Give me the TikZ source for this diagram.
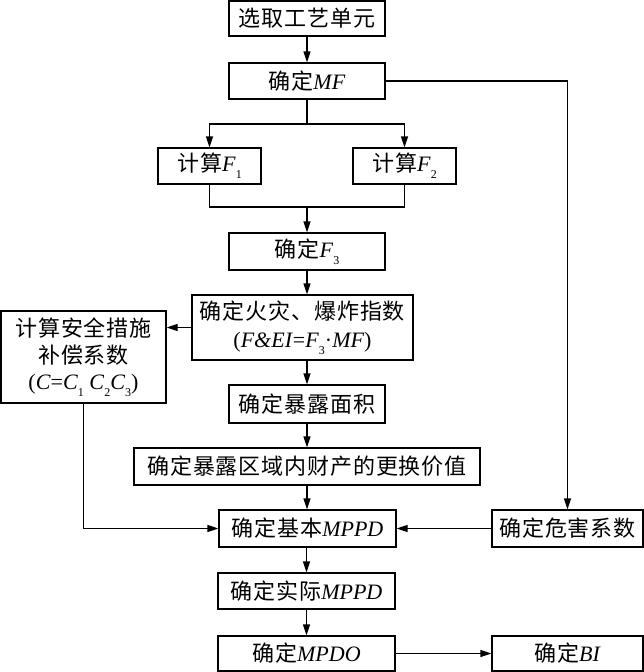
\documentclass[tikz,border=0pt]{standalone}
\usepackage{fontspec}
\setmainfont{Liberation Serif}
\newfontfamily\cjk[LetterSpace=4]{Noto Sans CJK SC}
\usetikzlibrary{arrows.meta}
\newcommand\zh[1]{{\cjk #1}}
\newcommand\sbs[1]{\raisebox{-0.3em}{\fontsize{12}{12}\selectfont\upshape #1}}
\begin{document}
\begin{tikzpicture}[x=1pt,y=1pt,
  box/.style={draw, line width=1.3pt, inner sep=0pt, align=center, font=\fontsize{22}{28}\selectfont},
  arr/.style={line width=1.3pt, -{Triangle[length=11pt,width=7pt]}},
  ln/.style={line width=1.3pt}]
\useasboundingbox (0,0) rectangle (644,-672);
\node[box, minimum width=156pt, minimum height=35pt] (b1) at (307,-18.5) {\zh{选取工艺单元}};
\node[box, minimum width=156pt, minimum height=36pt] (b2) at (307,-81) {\zh{确定}\textit{MF}};
\node[box, minimum width=103pt, minimum height=36pt] (f1) at (209.5,-166) {\zh{计算}\textit{F}\sbs{1}};
\node[box, minimum width=103pt, minimum height=36pt] (f2) at (404.5,-166) {\zh{计算}\textit{F}\sbs{2}};
\node[box, minimum width=156pt, minimum height=37pt] (f3) at (307,-251.5) {\zh{确定}\textit{F}\sbs{3}};
\node[box, minimum width=221pt, minimum height=65pt] (fei) at (302.5,-327.5) {\zh{确定火灾、爆炸指数}\\(\textit{F\&EI}=\textit{F}\sbs{3}·\textit{MF})};
\node[box, minimum width=165pt, minimum height=92pt, font=\fontsize{22}{26.5}\selectfont] (cc) at (83.5,-357) {\zh{计算安全措施}\\\zh{补偿系数}\\(\textit{C}=\textit{C}\sbs{1} \textit{C}\sbs{2}\textit{C}\sbs{3})};
\node[box, minimum width=156pt, minimum height=38pt] (area) at (307,-404) {\zh{确定暴露面积}};
\node[box, minimum width=346pt, minimum height=37pt] (val) at (307,-466.5) {\zh{确定暴露区域内财产的更换价值}};
\node[box, minimum width=177pt, minimum height=37pt] (mppd) at (307.5,-528.5) {\zh{确定基本}\textit{MPPD}};
\node[box, minimum width=151pt, minimum height=37pt] (haz) at (567.5,-528.5) {\zh{确定危害系数}};
\node[box, minimum width=177pt, minimum height=36pt] (act) at (306.5,-591) {\zh{确定实际}\textit{MPPD}};
\node[box, minimum width=177pt, minimum height=35pt] (mpdo) at (306.5,-653.5) {\zh{确定}\textit{MPDO}};
\node[box, minimum width=151pt, minimum height=35pt] (bi) at (567.5,-653.5) {\zh{确定}\textit{BI}};
\coordinate (s) at (307,-124);
\coordinate (m) at (307,-207);
\draw[arr] (b1) -- (b2);
\draw[ln] (b2.south) -- (s);
\draw[arr] (s) -| (f1.north);
\draw[arr] (s) -| (f2.north);
\draw[ln] (f1.south) |- (m);
\draw[ln] (f2.south) |- (m);
\draw[arr] (m) -- (f3.north);
\draw[arr] (f3.south) -- (f3.south |- fei.north);
\draw[arr] (fei.west) -- (cc.east |- fei.west);
\draw[arr] (area.north |- fei.south) -- (area.north);
\draw[arr] (area.south) -- (val.north -| area.south);
\draw[arr] (val.south -| area.south) -- (mppd.north -| area.south);
\draw[arr] (cc.south) |- (mppd.west);
\draw[arr] (b2.east) -| (haz.north);
\draw[arr] (haz.west) -- (mppd.east);
\draw[arr] (mppd.south -| act.north) -- (act.north);
\draw[arr] (act.south) -- (mpdo.north);
\draw[arr] (mpdo.east) -- (bi.west);
\end{tikzpicture}
\end{document}
